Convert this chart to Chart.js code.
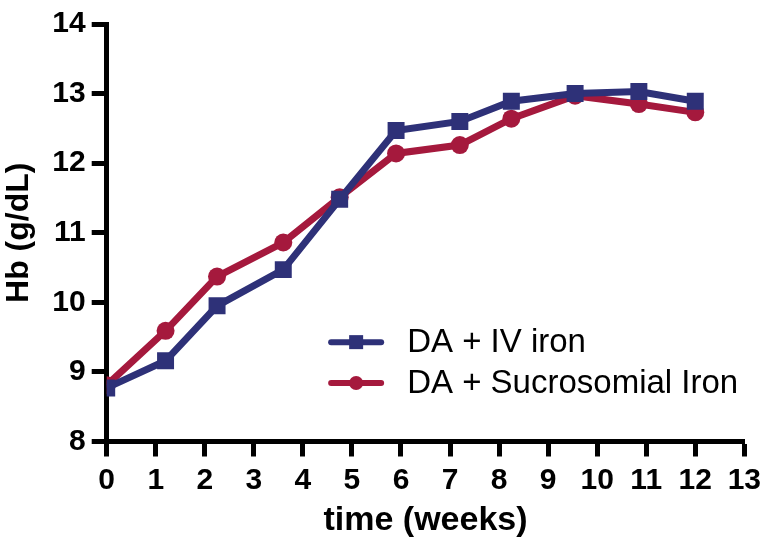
<!DOCTYPE html>
<html>
<head>
<meta charset="utf-8">
<script src="https://cdn.jsdelivr.net/npm/chart.js@4"></script>
<style>
  html, body { margin: 0; padding: 0; background: #fff; }
  #wrap { width: 767px; height: 541px; }
</style>
</head>
<body>
<div id="wrap"><canvas id="chart" width="767" height="541"></canvas></div>
<script>
// data
const weeks = [0, 1.2, 2.25, 3.6, 4.75, 5.9, 7.2, 8.25, 9.55, 10.85, 12];
const hbIvIron = [8.77, 9.16, 9.95, 10.47, 11.48, 12.47, 12.6, 12.89, 13.0, 13.03, 12.89];
const hbSucrosomial = [8.81, 9.59, 10.37, 10.86, 11.51, 12.14, 12.26, 12.64, 12.97, 12.85, 12.73];
const seriesLabels = ["DA + IV iron", "DA + Sucrosomial Iron"];
const xTicks = [0, 13];   // min / max, step 1
const yTicks = [8, 14];

const BLUE = "#2e3178";
const RED = "#a5193d";
const FONT = "'Liberation Sans', Arial, Helvetica, sans-serif";

const toPoints = (ys) => ys.map((y, i) => ({ x: weeks[i], y }));

// legend drawn inside the plot, line + marker like the original
const insideLegend = {
  id: "insideLegend",
  afterDraw(chart) {
    const { ctx, chartArea: a } = chart;
    const x0 = a.left + 0.352 * (a.right - a.left);
    const rows = [a.top + 0.762 * (a.bottom - a.top), a.top + 0.86 * (a.bottom - a.top)];
    ctx.save();
    chart.data.datasets.forEach((ds, i) => {
      const y = rows[i];
      ctx.strokeStyle = ds.borderColor;
      ctx.lineWidth = 6;
      ctx.lineCap = "round";
      ctx.beginPath();
      ctx.moveTo(x0, y);
      ctx.lineTo(x0 + 50, y);
      ctx.stroke();
      ctx.fillStyle = ds.borderColor;
      if (ds.pointStyle === "rect") {
        ctx.fillRect(x0 + 25 - 7, y - 7, 14, 14);
      } else {
        ctx.beginPath();
        ctx.arc(x0 + 25, y, 7, 0, Math.PI * 2);
        ctx.fill();
      }
      ctx.fillStyle = "#000";
      ctx.font = "33px " + FONT;
      ctx.textBaseline = "middle";
      ctx.textAlign = "left";
      ctx.fillText(ds.label, x0 + 76, y + 1);
    });
    ctx.restore();
  }
};

const tickFont = { family: FONT, size: 30, weight: "bold" };

new Chart(document.getElementById("chart"), {
  type: "line",
  data: {
    datasets: [
      {
        label: seriesLabels[0],
        data: toPoints(hbIvIron),
        borderColor: BLUE,
        backgroundColor: BLUE,
        borderWidth: 7,
        pointStyle: "rect",
        pointRadius: 12,
        pointBorderWidth: 0,
        tension: 0
      },
      {
        label: seriesLabels[1],
        data: toPoints(hbSucrosomial),
        borderColor: RED,
        backgroundColor: RED,
        borderWidth: 7,
        pointStyle: "circle",
        pointRadius: 9,
        pointBorderWidth: 0,
        tension: 0
      }
    ]
  },
  options: {
    responsive: false,
    animation: false,
    layout: { padding: { top: 12, right: 19, bottom: 0, left: 0 } },
    plugins: { legend: { display: false }, tooltip: { enabled: false } },
    scales: {
      x: {
        type: "linear",
        min: xTicks[0],
        max: xTicks[1],
        ticks: { stepSize: 1, color: "#000", font: tickFont, padding: 6, maxRotation: 0 },
        grid: { drawOnChartArea: false, drawTicks: true, tickLength: 15, tickWidth: 5, tickColor: "#000" },
        border: { display: true, width: 5, color: "#000" },
        title: {
          display: true,
          text: "time (weeks)",
          color: "#000",
          font: { family: FONT, size: 34, weight: "bold" },
          padding: { top: 0, bottom: 0 }
        },
        afterFit(scale) { scale.height = 99.5; }
      },
      y: {
        min: yTicks[0],
        max: yTicks[1],
        ticks: { stepSize: 1, color: "#000", font: tickFont, padding: 6 },
        grid: { drawOnChartArea: false, drawTicks: true, tickLength: 15, tickWidth: 5, tickColor: "#000" },
        border: { display: true, width: 5, color: "#000" },
        title: {
          display: true,
          text: "Hb (g/dL)",
          color: "#000",
          font: { family: FONT, size: 32, weight: "bold" },
          padding: { top: 0, bottom: 0 }
        },
        afterFit(scale) { scale.width = 106.7; }
      }
    }
  },
  plugins: [insideLegend]
});
</script>
</body>
</html>
